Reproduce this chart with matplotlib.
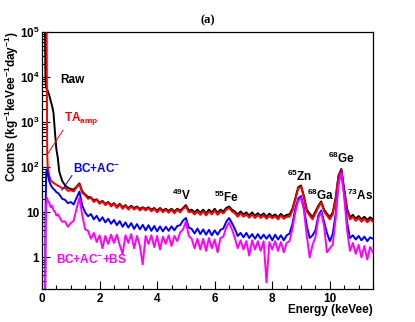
import numpy as np
import matplotlib
matplotlib.use('Agg')
import matplotlib.pyplot as plt
from matplotlib.ticker import MultipleLocator, LogLocator, FuncFormatter, NullFormatter

plt.rcParams['font.family'] = ['Liberation Sans', 'DejaVu Sans']
plt.rcParams['font.weight'] = 'bold'
plt.rcParams['mathtext.fontset'] = 'custom'
plt.rcParams['mathtext.rm'] = 'Liberation Sans:bold'
plt.rcParams['mathtext.it'] = 'Liberation Sans:bold'
plt.rcParams['mathtext.bf'] = 'Liberation Sans:bold'

# energy grid (keVee): fine points near threshold, then 0.1 keV steps
e_low = [0.10, 0.12, 0.14, 0.16, 0.18, 0.20, 0.25, 0.30, 0.35, 0.40, 0.45, 0.50, 0.55]
e_main = np.round(np.arange(0.6, 11.55, 0.1), 2)
energy = np.concatenate([e_low, e_main])

raw = [2e5, 9000, 6000, 5500, 5200, 5000, 4000, 3000, 2300, 1600, 600, 250, 160,
       80, 50, 40, 35, 33, 32, 37, 44, 29, 25,
       22, 21.5, 18.5, 19.5, 16.5, 18, 15.5, 17, 14.5, 16,
       13.5, 15.5, 13, 14.5, 12.5, 14, 12.5, 13.5, 12, 13,
       12, 13, 11.5, 12.5, 11, 12.5, 11, 12, 10.8, 12,
       10.5, 12, 11, 12.5, 14.5, 11, 11.5, 10, 11.5, 9.8,
       11.5, 9.5, 11.5, 10, 12, 9.8, 11.5, 10.5, 12.5, 13.5,
       11.5, 10.5, 9, 10.5, 9, 10, 8.5, 10, 8.4, 9.6,
       8.4, 9.5, 8, 9.4, 8.2, 9, 7.8, 9.3, 8, 8.8,
       9, 12, 20.5, 36, 39.5, 23, 11.5, 9.4, 7.8, 10.5,
       14, 17.5, 11.5, 9.4, 7.8, 10, 20.5, 65, 92, 32,
       12, 7.8, 8.8, 7.3, 8.3, 7, 8, 6.8, 7.8, 7]

ta_amp = [2e5, 2e5, 2e5, 2e5, 200, 100, 65, 52, 48, 45, 43, 41, 39,
          38, 34, 35, 30, 31, 29, 36, 42, 27, 24,
          20, 21, 17, 19, 15.5, 17.5, 14.5, 16.5, 13.5, 15.5,
          12.5, 15, 12, 14, 11.5, 13.5, 11.5, 13, 11, 12.5,
          11, 12.5, 10.5, 12, 10, 12, 10, 11.5, 9.8, 11.5,
          9.5, 11.5, 10, 12, 13.5, 10, 10.5, 9, 10.5, 8.8,
          10.5, 8.5, 10.5, 9, 11, 8.8, 10.5, 9.5, 11.5, 12.5,
          10.5, 9.5, 8, 9.5, 8, 9, 7.6, 9, 7.5, 8.8,
          7.5, 8.6, 7.2, 8.5, 7.4, 8.2, 7, 8.5, 7.2, 8,
          8, 11, 19, 34, 37, 21, 10.5, 8.5, 7, 9.5,
          13, 16.5, 10.5, 8.5, 7, 9, 19, 62, 88, 30,
          11, 7, 8, 6.5, 7.5, 6.2, 7.2, 6, 7, 6.2]

bc_ac = [0.01, 5, 60, 90, 85, 70, 50, 41, 36, 33, 31, 28, 27,
         25, 20, 19, 16, 17, 15, 21, 29, 14, 10,
         8.2, 9.2, 7, 8.4, 6.4, 7.8, 6, 7.2, 5.6, 6.8,
         5.2, 6.4, 4.8, 6, 4.6, 5.8, 4.3, 5.5, 4.2, 5.3,
         4, 5.2, 3.9, 5, 3.8, 4.9, 3.8, 4.8, 3.9, 4.9,
         4, 5, 5.2, 6.6, 7.5, 4.6, 4.3, 3.4, 4.4, 3.3,
         4.2, 3.2, 4.1, 3.1, 4, 3.2, 4.1, 4.4, 6.2, 7.5,
         5.8, 4.3, 3, 3.5, 2.8, 3.5, 2.7, 3.3, 2.6, 3.3,
         2.6, 3.2, 2.6, 3.2, 2.4, 3.2, 2.5, 3.1, 2.4, 3.1,
         3.4, 5.5, 12, 20, 23, 12.5, 5, 2.7, 3.1, 4,
         8.5, 11, 6.2, 3.5, 2.3, 3.3, 9, 45, 80, 25,
         6, 2.7, 3.1, 2.5, 3, 2.4, 2.9, 2.3, 2.8, 2.6]

bc_ac_bs = [0.01, 3, 12, 19, 21, 18, 16.5, 13, 14, 11, 10.5, 8.5, 9,
            8, 6.2, 6.3, 4.8, 5.8, 6.5, 12, 21, 8.5, 4.2,
            3.9, 2.6, 3.5, 2.2, 3.1, 1.6, 3, 2, 3.2, 2.1,
            3.2, 1.9, 1.2, 3.1, 2.1, 3.3, 1.6, 3, 1.8, 0.7,
            3, 2, 3.1, 1.7, 3, 1.5, 2.9, 2, 3.1, 1.8,
            3, 2.3, 3.6, 4.2, 6.2, 3, 2.6, 1.6, 2.6, 1.5,
            2.6, 1.4, 2.7, 1.6, 2.5, 1.3, 2.7, 2.9, 4.6, 6,
            4.2, 2.7, 1.6, 2.4, 1.5, 2.3, 1.1, 2.4, 1.5, 2.3,
            1.4, 2.3, 0.28, 2.2, 1.5, 2.3, 1.4, 2.2, 1.3, 2.1,
            2.3, 4.3, 10, 18, 21, 11, 3, 1, 1.9, 2.8,
            7.5, 10, 5, 1.3, 1.6, 1.9, 7, 42, 75, 22,
            4, 1.4, 2.1, 1.2, 1.9, 1, 1.8, 0.9, 1.7, 1.3]

fig = plt.figure(figsize=(4.15, 3.22), dpi=100)
ax = fig.add_axes([42/415, 33/322, 331/415, 257/322])

ax.plot(energy, raw, color='black', lw=1.4)
ax.plot(energy, ta_amp, color='red', lw=1.4)
ax.plot(energy, bc_ac, color='blue', lw=1.4)
ax.plot(energy, bc_ac_bs, color='magenta', lw=1.4)

ax.set_yscale('log')
ax.set_xlim(0, 11.5)
ax.set_ylim(0.2, 1e5)

ax.xaxis.set_major_locator(MultipleLocator(2))
ax.xaxis.set_minor_locator(MultipleLocator(0.5))
ax.yaxis.set_major_locator(LogLocator(base=10, numticks=10))
ax.yaxis.set_minor_locator(LogLocator(base=10, subs=np.arange(2, 10), numticks=20))
ax.yaxis.set_minor_formatter(NullFormatter())

def ylab(v, pos):
    n = int(round(np.log10(v)))
    if n == 0:
        return '1'
    if n == 1:
        return '10'
    return r'$10^{%d}$' % n

ax.yaxis.set_major_formatter(FuncFormatter(ylab))
ax.tick_params(which='both', direction='in', top=False, right=False, labelsize=8.5)
ax.tick_params(which='major', length=6, width=0.8)
ax.tick_params(which='minor', length=3, width=0.8)
ax.tick_params(axis='x', pad=3)
ax.tick_params(axis='y', pad=2)
for s in ax.spines.values():
    s.set_linewidth(0.9)

fig.text(12/415, 1 - 31/322, r'Counts (kg$^{-1}$keVee$^{-1}$day$^{-1}$)',
         rotation=90, ha='center', va='top', fontsize=8.5, fontweight='bold')
fig.text(373/415, 1 - 310/322, 'Energy (keVee)', ha='right', va='center',
         fontsize=8.5, fontweight='bold')
fig.text(208/415, 1 - 20/322, '(a)', ha='center', va='center', fontsize=9,
         fontweight='bold', family='Liberation Serif')

ax.text(0.63, 8500, 'Raw', color='black', fontsize=8.5, va='center')
ax.text(0.76, 1230, r'TA$_{\mathrm{amp}}$', color='red', fontsize=8.5, va='center')
ax.text(1.08, 95, r'BC+AC$^{-}$', color='blue', fontsize=8.5, va='center')
ax.text(0.49, 0.9, r'BC+AC$^{-}$+BS', color='magenta', fontsize=8.5, va='center')
ax.plot([0.73, 0.21], [665, 204], color='red', lw=0.7)
ax.plot([1.04, 0.69], [66, 31], color='blue', lw=0.7)

peaks = [(4.51, 24, '49', 'V'), (5.97, 21.5, '55', 'Fe'), (8.5, 63, '65', 'Zn'),
         (9.2, 24, '68', 'Ga'), (9.93, 158, '68', 'Ge'), (10.59, 24, '73', 'As')]
for x, y, mass, el in peaks:
    ax.text(x, y, r'$^{%s}$%s' % (mass, el), fontsize=8.5, va='center')

fig.savefig('out.png', dpi=100)
